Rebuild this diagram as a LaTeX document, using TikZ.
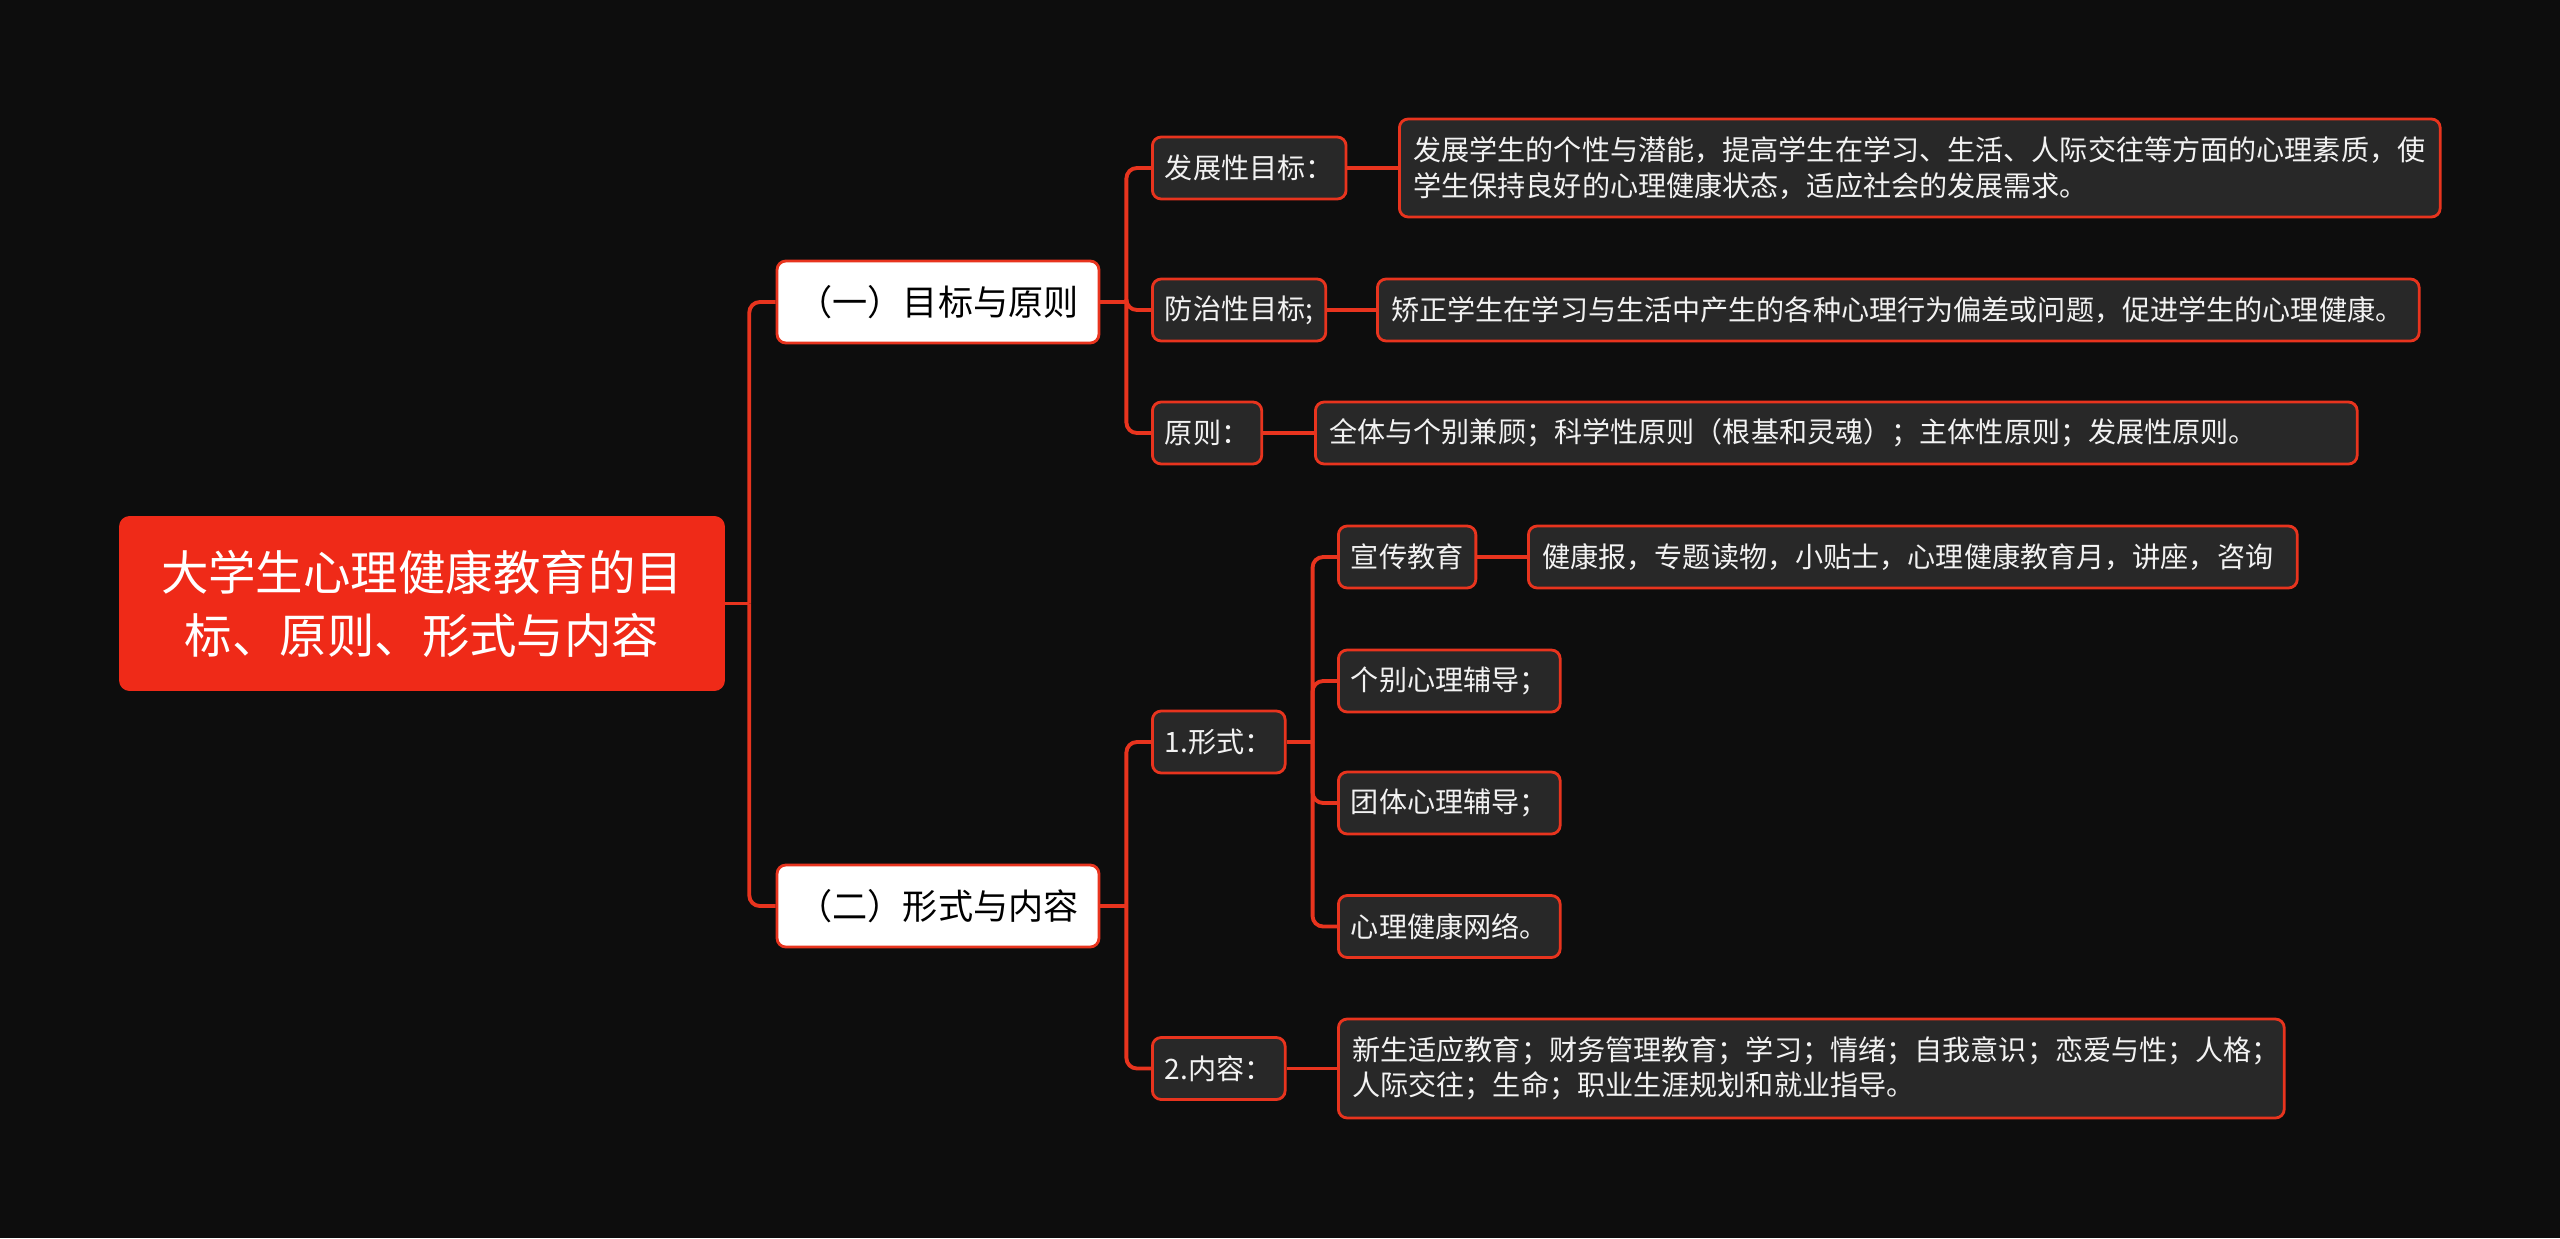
\documentclass[tikz,border=0pt]{standalone}
\usepackage{fontspec}
\setmainfont{Noto Sans CJK SC}
\usepackage{xcolor}
\usetikzlibrary{positioning, calc}
\definecolor{mapBack}{RGB}{13,13,13}
\definecolor{mapRed}{RGB}{232,52,30}
\definecolor{rootRed}{RGB}{239,42,24}
\definecolor{boxDark}{RGB}{40,40,40}
\definecolor{lightText}{RGB}{242,242,242}
\tikzset{
    rootbox/.style={
        rectangle,
        fill=rootRed,
        rounded corners=6pt,
        align=center,
        text=white,
        minimum width=12.12cm,
        minimum height=3.5cm,
        font=\fontsize{27}{36}\selectfont
    },
    topicbox/.style={
        rectangle,
        draw=mapRed,
        line width=1.6pt,
        fill=white,
        rounded corners=5pt,
        align=center,
        text=black,
        minimum width=6.44cm,
        minimum height=1.64cm,
        font=\fontsize{20}{24}\selectfont
    },
    itembox/.style={
        rectangle,
        draw=mapRed,
        line width=1.6pt,
        fill=boxDark,
        rounded corners=5pt,
        anchor=west,
        text=lightText,
        inner xsep=0.25cm,
        minimum height=1.24cm,
        font=\fontsize{16}{20}\selectfont
    },
    leafbox/.style={
        itembox,
        inner xsep=0.28cm,
        align=left
    },
    link/.style={draw=mapRed, line width=2.2pt, rounded corners=6pt}
}

\begin{document}
\begin{tikzpicture}[x=0.02cm,y=-0.02cm]
    \fill[mapBack] (0,0) rectangle (2560,1238);
    \useasboundingbox (0,0) rectangle (2560,1238);

    % main topic and the two branches
    \node[rootbox] (root) at (422,603.5) {大学生心理健康教育的目\\标、原则、形式与内容};
    \node[topicbox] (goal) at (938,302) {（一）目标与原则};
    \node[topicbox] (form) at (938,906) {（二）形式与内容};

    % goals and principles
    \node[itembox] (devgoal) at (1151,168) {发展性目标：};
    \node[itembox] (prevgoal) at (1151,310) {防治性目标;};
    \node[itembox] (rule) at (1151,433) {原则：};
    \node[leafbox, text width=20.26cm, minimum height=1.96cm] (devtext) at (1398,168)
        {发展学生的个性与潜能，提高学生在学习、生活、人际交往等方面的心理素质，使\\学生保持良好的心理健康状态，适应社会的发展需求。};
    \node[leafbox, text width=20.28cm] (prevtext) at (1376,310)
        {矫正学生在学习与生活中产生的各种心理行为偏差或问题，促进学生的心理健康。};
    \node[leafbox, text width=20.28cm] (ruletext) at (1314,433)
        {全体与个别兼顾；科学性原则（根基和灵魂）；主体性原则；发展性原则。};

    % forms and contents
    \node[itembox] (shape) at (1151,742) {1.形式：};
    \node[itembox] (content) at (1151,1068.5) {2.内容：};
    \node[itembox] (promo) at (1337,557) {宣传教育};
    \node[itembox] (single) at (1337,681) {个别心理辅导；};
    \node[itembox] (group) at (1337,803) {团体心理辅导；};
    \node[itembox] (network) at (1337,926.5) {心理健康网络。};
    \node[leafbox, text width=14.82cm] (promotext) at (1527,557)
        {健康报，专题读物，小贴士，心理健康教育月，讲座，咨询};
    \node[leafbox, text width=18.36cm, minimum height=1.98cm] (contenttext) at (1337,1068.5)
        {新生适应教育；财务管理教育；学习；情绪；自我意识；恋爱与性；人格；\\人际交往；生命；职业生涯规划和就业指导。};

    % connectors
    \draw[link] (root.east) -- ++(24,0) coordinate (rootjoin);
    \foreach \n in {goal,form}
        \draw[link] (rootjoin) |- (\n.west);
    \draw[link] (goal.east) -- ++(26,0) coordinate (goaljoin);
    \foreach \n in {devgoal,prevgoal,rule}
        \draw[link] (goaljoin) |- (\n.west);
    \draw[link] (form.east) -- ++(26,0) coordinate (formjoin);
    \foreach \n in {shape,content}
        \draw[link] (formjoin) |- (\n.west);
    \draw[link] (shape.east) -- ++(26,0) coordinate (shapejoin);
    \foreach \n in {promo,single,group,network}
        \draw[link] (shapejoin) |- (\n.west);
    \foreach \a/\b in {devgoal/devtext,prevgoal/prevtext,rule/ruletext,promo/promotext,content/contenttext}
        \draw[link] (\a.east) -- (\b.west);
\end{tikzpicture}
\end{document}
